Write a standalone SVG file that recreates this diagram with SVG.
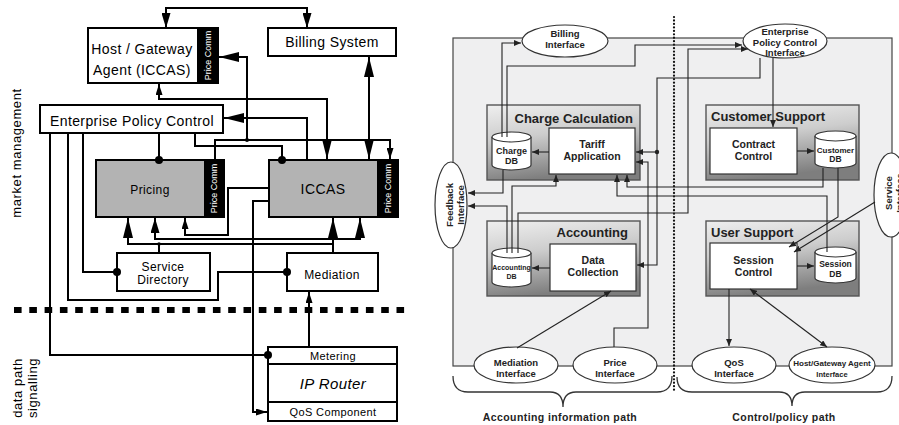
<svg xmlns="http://www.w3.org/2000/svg" width="899" height="425" viewBox="0 0 899 425">
<style>
.ln{fill:none;stroke:#000;stroke-width:2}
.bx{fill:#fff;stroke:#000;stroke-width:2}
.gr{fill:#b3b3b3;stroke:#000;stroke-width:2}
.strip{fill:#000}
.t{font-family:"Liberation Sans",Arial,sans-serif;fill:#000;text-anchor:middle;letter-spacing:0.4px}
.pc{font-family:"Liberation Sans",Arial,sans-serif;fill:#fff;font-size:9px;text-anchor:middle}
.rot{font-family:"Liberation Sans",Arial,sans-serif;fill:#000;font-size:13px;text-anchor:middle;letter-spacing:0.6px}
.rl{fill:none;stroke:#222;stroke-width:1.1}
.rb{font-family:"Liberation Sans",Arial,sans-serif;font-weight:bold;fill:#222;text-anchor:middle}
.tt{font-family:"Liberation Sans",Arial,sans-serif;font-weight:bold;fill:#222;font-size:13px}
.comp{fill:url(#g);stroke:#555;stroke-width:1.4}
.wb{fill:#fff;stroke:#333;stroke-width:1.2}
.el{fill:#fff;stroke:#333;stroke-width:1.2}
.dot{fill:#000}
</style>
<defs>
<linearGradient id="g" x1="0" y1="0" x2="0.25" y2="1">
<stop offset="0" stop-color="#efefef"/>
<stop offset="0.45" stop-color="#cdcdcd"/>
<stop offset="1" stop-color="#7e7e7e"/>
</linearGradient>
<marker id="aB" markerUnits="userSpaceOnUse" markerWidth="20" markerHeight="10" refX="20" refY="5" orient="auto-start-reverse"><path d="M0,0 L20,5 L0,10 z" fill="#000"/></marker>
<marker id="aM" markerUnits="userSpaceOnUse" markerWidth="15" markerHeight="9" refX="15" refY="4.5" orient="auto-start-reverse"><path d="M0,0 L15,4.5 L0,9 z" fill="#000"/></marker>
<marker id="aS" markerUnits="userSpaceOnUse" markerWidth="11" markerHeight="7" refX="11" refY="3.5" orient="auto-start-reverse"><path d="M0,0 L11,3.5 L0,7 z" fill="#000"/></marker>
<marker id="aR" markerUnits="userSpaceOnUse" markerWidth="7" markerHeight="6" refX="7" refY="3" orient="auto-start-reverse"><path d="M0,0 L7,3 L0,6 z" fill="#222"/></marker>
</defs>

<!-- LEFT DIAGRAM -->
<g id="labels-left">
<text class="rot" transform="translate(21,153) rotate(-90)">market management</text>
<text class="rot" transform="translate(22,388) rotate(-90)">data path</text>
<text class="rot" transform="translate(37,388) rotate(-90)">signalling</text>
</g>
<line x1="14" y1="310" x2="410" y2="310" stroke="#000" stroke-width="6" stroke-dasharray="7.6 7.7"/>

<g id="host">
<rect class="bx" x="88" y="28" width="130" height="55"/>
<rect class="strip" x="197" y="28" width="21" height="55"/>
<text class="pc" transform="translate(211,55.5) rotate(-90)">Price Comm</text>
<text class="t" x="142" y="54" font-size="14">Host / Gateway</text>
<text class="t" x="142" y="75" font-size="14">Agent (ICCAS)</text>
</g>
<g id="billing">
<rect class="bx" x="268" y="28" width="128" height="28"/>
<text class="t" x="332" y="47" font-size="14">Billing System</text>
</g>
<g id="epc">
<rect class="bx" x="40" y="105" width="183" height="28"/>
<text class="t" x="132" y="126" font-size="14">Enterprise Policy Control</text>
</g>
<g id="pricing">
<rect class="gr" x="96" y="160" width="128" height="57"/>
<rect class="strip" x="204" y="160" width="20" height="57"/>
<text class="pc" transform="translate(217,188.5) rotate(-90)">Price Comm</text>
<text class="t" x="150" y="194" font-size="12">Pricing</text>
</g>
<g id="iccas">
<rect class="gr" x="269" y="160" width="129" height="57"/>
<rect class="strip" x="377" y="160" width="21" height="57"/>
<text class="pc" transform="translate(391,188.5) rotate(-90)">Price Comm</text>
<text class="t" x="323" y="194" font-size="14">ICCAS</text>
</g>
<g id="servicedir">
<rect class="bx" x="117" y="253" width="93" height="38"/>
<text class="t" x="163" y="271" font-size="12">Service</text>
<text class="t" x="163" y="284" font-size="12">Directory</text>
</g>
<g id="mediation">
<rect class="bx" x="287" y="253" width="91" height="38"/>
<text class="t" x="332" y="279" font-size="12">Mediation</text>
</g>
<g id="router">
<rect class="bx" x="268" y="347" width="129" height="74"/>
<line class="ln" x1="268" y1="364" x2="397" y2="364"/>
<line class="ln" x1="268" y1="402" x2="397" y2="402"/>
<text class="t" x="333" y="360" font-size="11">Metering</text>
<text class="t" x="333" y="389" font-size="15" font-style="italic">IP Router</text>
<text class="t" x="333" y="416" font-size="11">QoS Component</text>
</g>

<g id="connectors-left">
<path class="ln" d="M166,28 V8 H307 V28" marker-start="url(#aM)" marker-end="url(#aM)"/>
<path class="ln" d="M369,57 V159" marker-start="url(#aB)" marker-end="url(#aB)"/>
<path class="ln" d="M247,140 V57 H219" marker-end="url(#aB)"/>
<path class="ln" d="M215,160 V140 H390 V159" marker-end="url(#aS)"/>
<circle class="dot" cx="247" cy="140" r="2"/>
<path class="ln" d="M159,84 V99 H327 V159" marker-start="url(#aS)" marker-end="url(#aB)"/>
<path class="ln" d="M307,160 V118 H224" marker-end="url(#aB)"/>
<path class="ln" d="M195,133 V146 H282 V160"/>
<circle class="dot" cx="282" cy="160" r="4"/>
<path class="ln" d="M159,133 V160"/>
<circle class="dot" cx="159" cy="160" r="4"/>
<path class="ln" d="M269,188 H228 V235 H185 V218" marker-end="url(#aS)"/>
<path class="ln" d="M269,201 H253 V412 H267" marker-end="url(#aS)"/>
<path class="ln" d="M333,253 V218" marker-end="url(#aB)"/>
<path class="ln" d="M128,218 V244 H333" marker-start="url(#aB)"/>
<path class="ln" d="M159,253 V244"/>
<circle class="dot" cx="159" cy="244" r="1.8"/>
<path class="ln" d="M155,218 V239 H360 V218" marker-start="url(#aM)" marker-end="url(#aB)"/>
<path class="ln" d="M83,133 V272 H117"/>
<circle class="dot" cx="117" cy="272" r="4"/>
<path class="ln" d="M68,133 V300 H218 V272 H287"/>
<circle class="dot" cx="287" cy="272" r="4"/>
<path class="ln" d="M50,133 V355 H268"/>
<circle class="dot" cx="268" cy="355" r="4"/>
<path class="ln" d="M309,347 V292" marker-end="url(#aS)"/>
</g>

<!-- RIGHT DIAGRAM -->
<rect x="453" y="38" width="439" height="328" fill="#efeff0" stroke="#444" stroke-width="1.2"/>
<line x1="674" y1="17" x2="674" y2="392" stroke="#111" stroke-width="2.2" stroke-linecap="round" stroke-dasharray="0.1 3.35"/>

<g id="charge-calc">
<rect class="comp" x="487" y="105" width="153" height="75"/>
<text class="tt" x="633" y="123" text-anchor="end">Charge Calculation</text>
</g>
<g id="tariff">
<rect class="wb" x="549" y="128" width="86" height="46"/>
<text class="rb" x="592" y="148" font-size="10.5">Tariff</text>
<text class="rb" x="592" y="160" font-size="10.5">Application</text>
</g>
<g id="chargedb">
<path d="M492,137 V165 A19.5,5 0 0 0 531,165 V137" fill="#fff" stroke="#333" stroke-width="1.2"/>
<ellipse cx="511.5" cy="137" rx="19.5" ry="5" fill="#fff" stroke="#333" stroke-width="1.2"/>
<text class="rb" x="511.5" y="154" font-size="9">Charge</text>
<text class="rb" x="511.5" y="164" font-size="9">DB</text>
</g>
<g id="accounting">
<rect class="comp" x="487" y="221" width="153" height="75"/>
<text class="tt" x="628" y="237" text-anchor="end">Accounting</text>
</g>
<g id="datacoll">
<rect class="wb" x="550" y="244" width="86" height="47"/>
<text class="rb" x="593" y="264" font-size="10.5">Data</text>
<text class="rb" x="593" y="276" font-size="10.5">Collection</text>
</g>
<g id="accdb">
<path d="M492,253 V282 A19.5,5 0 0 0 531,282 V253" fill="#fff" stroke="#333" stroke-width="1.2"/>
<ellipse cx="511.5" cy="253" rx="19.5" ry="5" fill="#fff" stroke="#333" stroke-width="1.2"/>
<text class="rb" x="511.5" y="270" font-size="7">Accounting</text>
<text class="rb" x="511.5" y="279" font-size="7">DB</text>
</g>
<g id="customer-support">
<rect class="comp" x="706" y="105" width="153" height="75"/>
<text class="tt" x="711" y="121">Customer Support</text>
</g>
<g id="contract">
<rect class="wb" x="710" y="128" width="87" height="46"/>
<text class="rb" x="753.5" y="148" font-size="10.5">Contract</text>
<text class="rb" x="753.5" y="160" font-size="10.5">Control</text>
</g>
<g id="customerdb">
<path d="M815,136 V163 A20.5,5 0 0 0 856,163 V136" fill="#fff" stroke="#333" stroke-width="1.2"/>
<ellipse cx="835.5" cy="136" rx="20.5" ry="5" fill="#fff" stroke="#333" stroke-width="1.2"/>
<text class="rb" x="835.5" y="153" font-size="8">Customer</text>
<text class="rb" x="835.5" y="162" font-size="8.5">DB</text>
</g>
<g id="user-support">
<rect class="comp" x="706" y="221" width="153" height="75"/>
<text class="tt" x="711" y="237">User Support</text>
</g>
<g id="session">
<rect class="wb" x="710" y="243" width="87" height="46"/>
<text class="rb" x="753.5" y="264" font-size="10.5">Session</text>
<text class="rb" x="753.5" y="276" font-size="10.5">Control</text>
</g>
<g id="sessiondb">
<path d="M815,252 V278 A20.5,5 0 0 0 856,278 V252" fill="#fff" stroke="#333" stroke-width="1.2"/>
<ellipse cx="835.5" cy="252" rx="20.5" ry="5" fill="#fff" stroke="#333" stroke-width="1.2"/>
<text class="rb" x="835.5" y="267" font-size="8.5">Session</text>
<text class="rb" x="835.5" y="277" font-size="8.5">DB</text>
</g>

<g id="billing-if">
<ellipse class="el" cx="565" cy="41" rx="43" ry="16"/>
<text class="rb" x="565" y="37" font-size="9.5">Billing</text>
<text class="rb" x="565" y="48" font-size="9.5">Interface</text>
</g>
<g id="epc-if">
<ellipse class="el" cx="785" cy="41" rx="42" ry="17"/>
<text class="rb" x="785" y="35" font-size="9.5">Enterprise</text>
<text class="rb" x="785" y="46" font-size="9.5">Policy Control</text>
<text class="rb" x="785" y="56" font-size="9.5">Interface</text>
</g>
<g id="feedback-if">
<ellipse class="el" cx="451" cy="205" rx="16" ry="43"/>
<text class="rb" font-size="9.5" transform="translate(453,205) rotate(-90)">Feedback</text>
<text class="rb" font-size="9.5" transform="translate(464,205) rotate(-90)">Interface</text>
</g>
<g id="service-if">
<ellipse class="el" cx="891" cy="195" rx="17" ry="42"/>
<text class="rb" font-size="9.5" transform="translate(892,193) rotate(-90)">Service</text>
<text class="rb" font-size="9.5" transform="translate(903,193) rotate(-90)">Interface</text>
</g>
<g id="mediation-if">
<ellipse class="el" cx="516" cy="365" rx="42" ry="18"/>
<text class="rb" x="516" y="366" font-size="9.5">Mediation</text>
<text class="rb" x="516" y="377" font-size="9.5">Interface</text>
</g>
<g id="price-if">
<ellipse class="el" cx="615" cy="365" rx="42" ry="18"/>
<text class="rb" x="615" y="366" font-size="9.5">Price</text>
<text class="rb" x="615" y="377" font-size="9.5">Interface</text>
</g>
<g id="qos-if">
<ellipse class="el" cx="734" cy="365" rx="42" ry="18"/>
<text class="rb" x="734" y="366" font-size="9.5">QoS</text>
<text class="rb" x="734" y="377" font-size="9.5">Interface</text>
</g>
<g id="hostgw-if">
<ellipse class="el" cx="832" cy="365" rx="43" ry="18"/>
<text class="rb" x="832" y="366" font-size="8">Host/Gateway Agent</text>
<text class="rb" x="832" y="377" font-size="7.5">Interface</text>
</g>

<g id="connectors-right">
<path class="rl" d="M502,137 V43 H521" marker-end="url(#aR)"/>
<path class="rl" d="M507,137 V66 H635 V45 H742" marker-end="url(#aR)"/>
<path class="rl" d="M760,58 V78 H657 V265 H637" marker-end="url(#aR)"/>
<path class="rl" d="M657,152 H636" marker-end="url(#aR)"/>
<circle cx="657" cy="152" r="2.2" fill="#222"/>
<path class="rl" d="M518,253 V213 H688 V49 H748" marker-end="url(#aR)"/>
<path class="rl" d="M614,347 V328 H648 V162 H636" marker-end="url(#aR)"/>
<path class="rl" d="M503,170 V193 H468" marker-end="url(#aR)"/>
<path class="rl" d="M507,253 V206 H468" marker-end="url(#aR)"/>
<path class="rl" d="M512,253 V186 H556 V175" marker-end="url(#aR)"/>
<path class="rl" d="M823,168 V187 H627 V175" marker-end="url(#aR)"/>
<path class="rl" d="M827,252 V196 H617 V175" marker-end="url(#aR)"/>
<path class="rl" d="M549,152 H532" marker-end="url(#aR)"/>
<path class="rl" d="M550,268 H532" marker-end="url(#aR)"/>
<path class="rl" d="M517,348 L611,291" marker-end="url(#aR)"/>
<path class="rl" d="M773,58 V127" marker-end="url(#aR)"/>
<path class="rl" d="M797,151 H814" marker-end="url(#aR)"/>
<path class="rl" d="M838,168 V217 L789,247" marker-end="url(#aR)"/>
<path class="rl" d="M875,202 L794,252" marker-end="url(#aR)"/>
<path class="rl" d="M797,266 H814" marker-end="url(#aR)"/>
<path class="rl" d="M729,289 V346" marker-end="url(#aR)"/>
<path class="rl" d="M750,289 L827,347" marker-start="url(#aR)" marker-end="url(#aR)"/>
</g>

<g id="braces">
<path d="M453,376 Q453,392 468,392 H550 Q563,392 563,407 Q563,392 576,392 H657 Q672,392 672,376" fill="none" stroke="#333" stroke-width="1.3"/>
<path d="M677,377 Q677,392 692,392 H779 Q792,392 792,406 Q792,392 805,392 H877 Q892,392 892,376" fill="none" stroke="#333" stroke-width="1.3"/>
<text class="rb" x="560" y="421" font-size="10.5" letter-spacing="0.4">Accounting information path</text>
<text class="rb" x="784" y="421" font-size="10.5" letter-spacing="0.4">Control/policy path</text>
</g>
</svg>
